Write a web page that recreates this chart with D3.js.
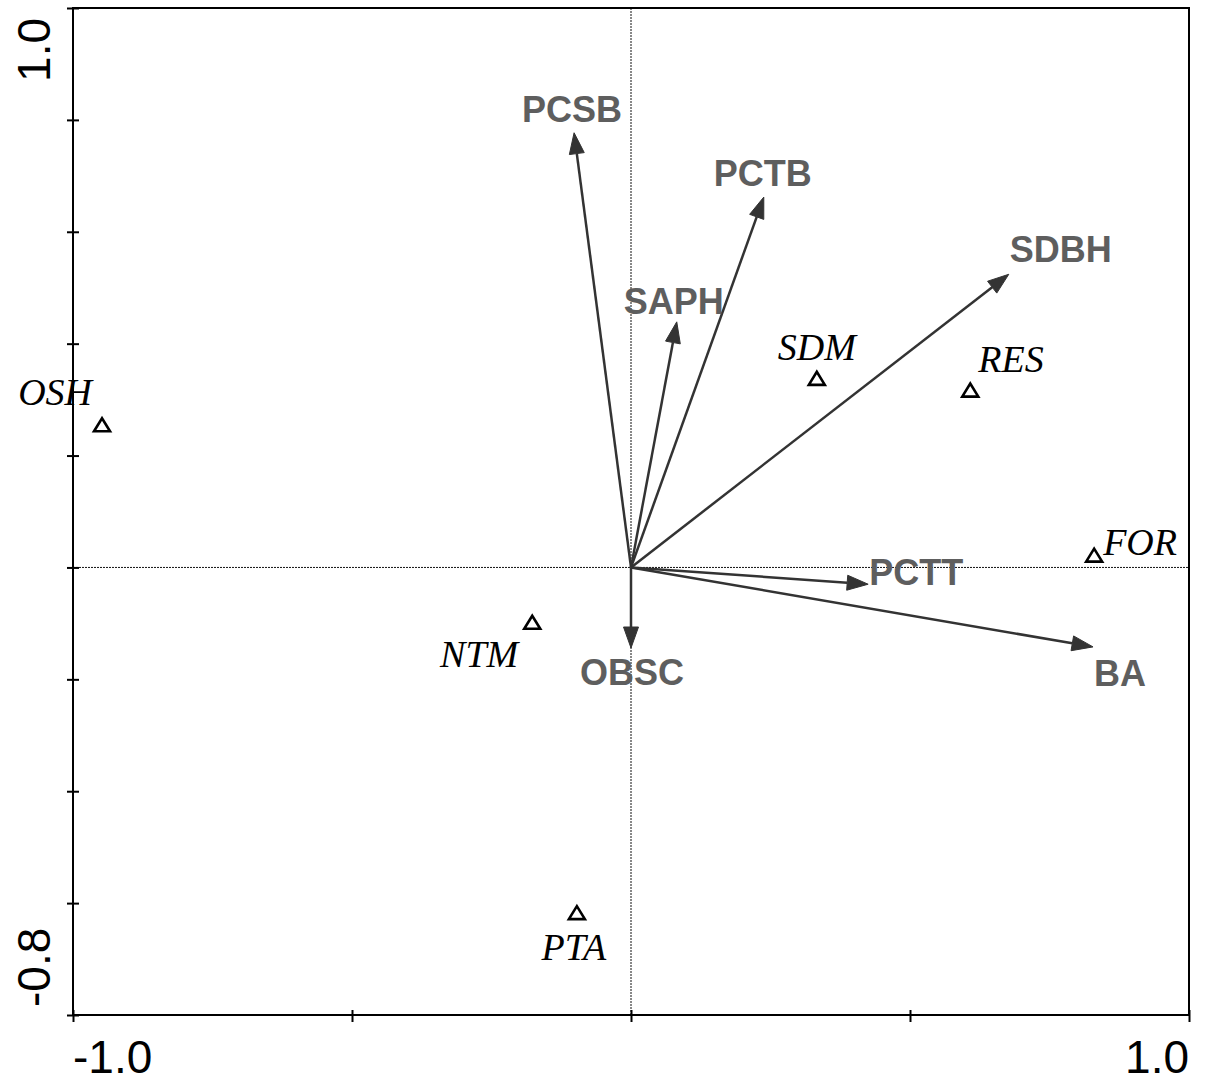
<!DOCTYPE html>
<html><head><meta charset="utf-8">
<script src="https://cdn.jsdelivr.net/npm/d3@7"></script>
<style>body{margin:0;background:#fff}</style>
</head><body>
<svg id="chart" width="1207" height="1082"></svg>
<script>
// ---- data ----
const envNames = ["PCSB","PCTB","SAPH","SDBH","PCTT","BA","OBSC"];
const envX     = [-0.102, 0.238, 0.082, 0.677, 0.425, 0.828, 0.000];
const envY     = [ 0.777, 0.662, 0.439, 0.524,-0.030,-0.142,-0.144];
const siteNames = ["OSH","SDM","RES","FOR","NTM","PTA"];
const siteX     = [-0.948, 0.333, 0.608, 0.830,-0.177,-0.097];
const siteY     = [ 0.255, 0.338, 0.317, 0.022,-0.098,-0.617];
const xTicks = [-1.0,-0.5,0,0.5,1.0];
const yTicks = [-0.8,-0.6,-0.4,-0.2,0,0.2,0.4,0.6,0.8,1.0];
const xTickLabels = ["-1.0","1.0"];
const yTickLabels = ["-0.8","1.0"];

// ---- layout / style ----
const envLabelPlace = {PCSB:["middle",-2,-11],PCTB:["middle",-1,-11],SAPH:["middle",-3,-8],
  SDBH:["start",1,-12],PCTT:["start",1,1],BA:["start",1,39],OBSC:["middle",1,37]};
const siteLabelPlace = {OSH:["end",-10,-20],SDM:["middle",0,-18],RES:["start",8,-18],
  FOR:["start",9,0],NTM:["end",-14,45],PTA:["middle",-3,47]};

const svg = d3.select("#chart");
const x = d3.scaleLinear().domain([-1,1]).range([73,1189]);
const y = d3.scaleLinear().domain([-0.8,1.0]).range([1015,8]);

// zero lines
svg.append("line").attr("x1",x(-1)).attr("x2",x(1)).attr("y1",y(0)).attr("y2",y(0))
  .attr("stroke","#111").attr("stroke-width",1).attr("stroke-dasharray","2,1");
svg.append("line").attr("x1",x(0)).attr("x2",x(0)).attr("y1",y(1)).attr("y2",y(-0.8))
  .attr("stroke","#111").attr("stroke-width",1).attr("stroke-dasharray","2,1");

// frame
svg.append("rect").attr("x",x(-1)).attr("y",y(1)).attr("width",x(1)-x(-1)).attr("height",y(-0.8)-y(1))
  .attr("fill","none").attr("stroke","#000").attr("stroke-width",2);

// axes
const gx = svg.append("g").attr("transform",`translate(0,${y(-0.8)})`)
  .call(d3.axisBottom(x).tickValues(xTicks).tickSize(7).tickFormat(""));
gx.select(".domain").remove();
gx.selectAll(".tick line").attr("y1",-5).attr("y2",7).attr("stroke","#000").attr("stroke-width",2);
const gy = svg.append("g").attr("transform",`translate(${x(-1)},0)`)
  .call(d3.axisLeft(y).tickValues(yTicks).tickSize(6).tickFormat(""));
gy.select(".domain").remove();
gy.selectAll(".tick line").attr("x1",-6).attr("x2",6).attr("stroke","#000").attr("stroke-width",2);

const tickFont = "'Liberation Sans', Arial, sans-serif";
svg.append("text").attr("x",x(-1)).attr("y",1073).attr("text-anchor","start")
  .attr("font-family",tickFont).attr("font-size",46).text(xTickLabels[0]);
svg.append("text").attr("x",x(1)).attr("y",1073).attr("text-anchor","end")
  .attr("font-family",tickFont).attr("font-size",46).text(xTickLabels[1]);
svg.append("text").attr("transform",`translate(50,${y(-0.8)-8}) rotate(-90)`).attr("text-anchor","start")
  .attr("font-family",tickFont).attr("font-size",46).text(yTickLabels[0]);
svg.append("text").attr("transform",`translate(50,${y(1)+10}) rotate(-90)`).attr("text-anchor","end")
  .attr("font-family",tickFont).attr("font-size",46).text(yTickLabels[1]);

// arrows
const ox = x(0), oy = y(0);
const headL = 21, headW = 7.5;
const env = envNames.map((n,i)=>({n, tx:x(envX[i]), ty:y(envY[i])}));
const ga = svg.append("g");
env.forEach(d=>{
  const ang = Math.atan2(d.ty-oy, d.tx-ox);
  const bx = d.tx - headL*Math.cos(ang), by = d.ty - headL*Math.sin(ang);
  ga.append("line").attr("x1",ox).attr("y1",oy).attr("x2",bx).attr("y2",by)
    .attr("stroke","#333").attr("stroke-width",2.5);
  const px = -Math.sin(ang), py = Math.cos(ang);
  ga.append("path").attr("d",`M${d.tx},${d.ty}L${bx+headW*px},${by+headW*py}L${bx-headW*px},${by-headW*py}Z`)
    .attr("fill","#333").attr("stroke","#333").attr("stroke-width",1);
  const p = envLabelPlace[d.n];
  ga.append("text").attr("x",d.tx+p[1]).attr("y",d.ty+p[2]).attr("text-anchor",p[0])
    .attr("font-family","'Liberation Sans', Arial, sans-serif").attr("font-weight","bold")
    .attr("font-size",36).attr("fill","#5e5e5e").text(d.n);
});

// sites
const gs = svg.append("g");
siteNames.forEach((n,i)=>{
  const cx = x(siteX[i]), cy = y(siteY[i]);
  gs.append("path").attr("transform",`translate(${cx},${cy})`).attr("d","M-8,6.5L8,6.5L0,-6.5Z")
    .attr("fill","none").attr("stroke","#000").attr("stroke-width",2.6).attr("stroke-linejoin","miter");
  const p = siteLabelPlace[n];
  gs.append("text").attr("x",cx+p[1]).attr("y",cy+p[2]).attr("text-anchor",p[0])
    .attr("font-family","'Liberation Serif', 'Times New Roman', serif").attr("font-style","italic")
    .attr("font-size",38).attr("fill","#000").text(n);
});
</script>
</body></html>
